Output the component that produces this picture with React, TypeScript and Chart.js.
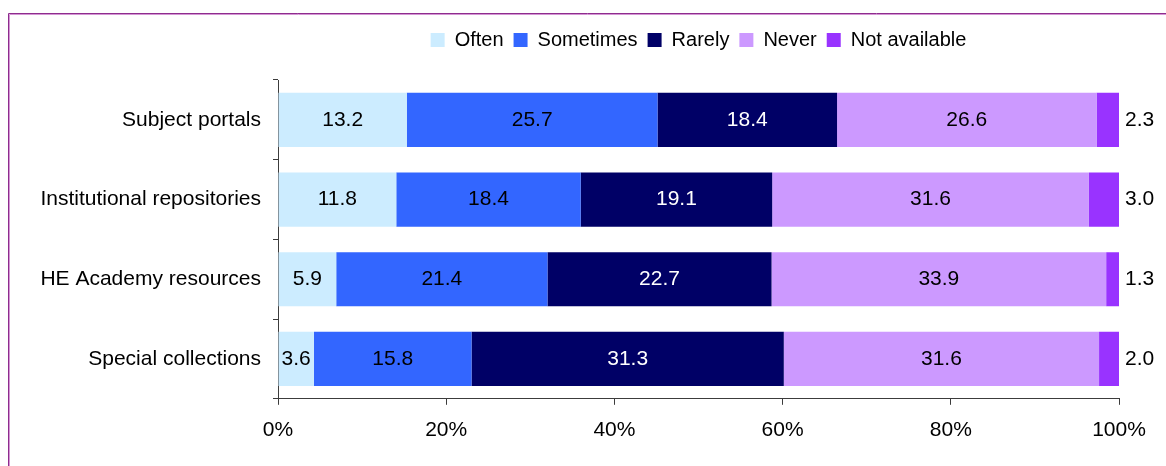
import { useEffect, useRef } from "react";
import { Chart, registerables } from "chart.js";

Chart.register(...registerables);

// Survey responses per resource type (percent of respondents)
const categories = [
  "Subject portals",
  "Institutional repositories",
  "HE Academy resources",
  "Special collections",
];
const seriesNames = ["Often", "Sometimes", "Rarely", "Never", "Not available"];
const often = [13.2, 11.8, 5.9, 3.6];
const sometimes = [25.7, 18.4, 21.4, 15.8];
const rarely = [18.4, 19.1, 22.7, 31.3];
const never = [26.6, 31.6, 33.9, 31.6];
const notAvailable = [2.3, 3.0, 1.3, 2.0];
const xTickValues = [0, 20, 40, 60, 80, 100];

const seriesColors = ["#CCECFF", "#3366FF", "#000066", "#CC99FF", "#9933FF"];
const labelColors = ["#000000", "#000000", "#FFFFFF", "#000000", "#000000"];

const FONT = "'Liberation Sans', Arial, Helvetica, sans-serif";

const seriesValues = [often, sometimes, rarely, never, notAvailable];
const rowTotals = categories.map((_, i) =>
  seriesValues.reduce((sum, s) => sum + s[i], 0)
);
// each bar is scaled to 100% of its row
const shares = seriesValues.map((s) => s.map((v, i) => (v / rowTotals[i]) * 100));

const frameAndLabels = {
  id: "frameAndLabels",
  beforeDraw(chart: any) {
    const { ctx } = chart;
    ctx.save();
    ctx.fillStyle = "#ffffff";
    ctx.fillRect(0, 0, chart.width, chart.height);
    // outer frame
    ctx.lineWidth = 1;
    ctx.strokeStyle = "#8e2c8e";
    ctx.beginPath();
    ctx.moveTo(8.5, chart.height);
    ctx.lineTo(8.5, 13.5);
    ctx.lineTo(chart.width, 13.5);
    ctx.stroke();
    ctx.strokeStyle = "#d496d4";
    ctx.beginPath();
    ctx.moveTo(9.5, chart.height);
    ctx.lineTo(9.5, 14.5);
    ctx.lineTo(chart.width, 14.5);
    ctx.stroke();
    ctx.restore();
  },
  afterDatasetsDraw(chart: any) {
    const { ctx } = chart;
    ctx.save();
    ctx.font = `21px ${FONT}`;
    ctx.textBaseline = "middle";
    const last = seriesValues.length - 1;
    seriesValues.forEach((vals, di) => {
      const meta = chart.getDatasetMeta(di);
      meta.data.forEach((bar: any, i: number) => {
        const text = vals[i].toFixed(1);
        if (di === last) {
          ctx.fillStyle = "#000000";
          ctx.textAlign = "left";
          ctx.fillText(text, bar.x + 6, bar.y);
        } else {
          ctx.fillStyle = labelColors[di];
          ctx.textAlign = "center";
          ctx.fillText(text, (bar.x + bar.base) / 2, bar.y);
        }
      });
    });
    ctx.restore();
  },
};

export default function App() {
  const canvasRef = useRef<HTMLCanvasElement | null>(null);

  useEffect(() => {
    if (!canvasRef.current) return;
    const chart = new Chart(canvasRef.current, {
      type: "bar",
      data: {
        labels: categories,
        datasets: seriesNames.map((name, di) => ({
          label: name,
          data: shares[di],
          backgroundColor: seriesColors[di],
          borderWidth: 0,
          barPercentage: 0.68,
          categoryPercentage: 1,
        })),
      },
      options: {
        indexAxis: "y",
        responsive: false,
        animation: false,
        layout: { padding: { top: 20, right: 47, bottom: 10, left: 0 } },
        plugins: {
          tooltip: { enabled: false },
          legend: {
            position: "top",
            align: "center",
            fullSize: false,
            weight: 1000,
            labels: {
              boxWidth: 14,
              boxHeight: 14,
              padding: 10,
              color: "#000000",
              font: { family: FONT, size: 20 },
            },
          },
          // empty spacer between the legend and the plot
          subtitle: {
            display: true,
            text: "",
            fullSize: false,
            weight: 500,
            font: { size: 1, lineHeight: 1 },
            padding: { top: 0, bottom: 19 },
          },
        },
        scales: {
          x: {
            stacked: true,
            min: 0,
            max: 100,
            afterBuildTicks: (scale: any) => {
              scale.ticks = xTickValues.map((v) => ({ value: v }));
            },
            ticks: {
              color: "#000000",
              font: { family: FONT, size: 21 },
              padding: 13,
              maxRotation: 0,
              callback: (v: any) => `${v}%`,
            },
            grid: {
              drawOnChartArea: false,
              drawTicks: true,
              tickLength: 6,
              color: "#3c3c3c",
            },
            border: { display: true, color: "#3c3c3c", width: 1 },
          },
          y: {
            stacked: true,
            afterFit: (scale: any) => {
              scale.width = 278;
            },
            ticks: {
              color: "#000000",
              font: { family: FONT, size: 21 },
              padding: 12,
            },
            grid: {
              offset: true,
              drawOnChartArea: false,
              drawTicks: true,
              tickLength: 5,
              color: "#3c3c3c",
            },
            border: { display: true, color: "#3c3c3c", width: 1 },
          },
        },
      },
      plugins: [frameAndLabels],
    });
    return () => chart.destroy();
  }, []);

  return (
    <div style={{ position: "absolute", left: 0, top: 0, width: 1166, height: 466 }}>
      <canvas ref={canvasRef} width={1166} height={466} />
    </div>
  );
}
